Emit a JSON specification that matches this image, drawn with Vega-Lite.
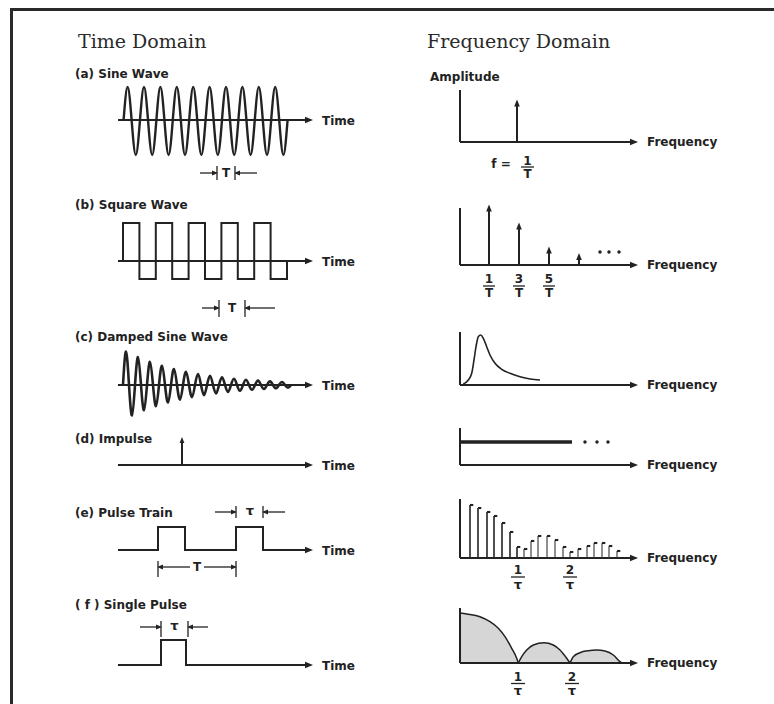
{
  "$schema": "https://vega.github.io/schema/vega-lite/v6.json",
  "width": 774,
  "height": 704,
  "autosize": {"type": "none"},
  "padding": 0,
  "background": "white",
  "config": {"view": {"stroke": null}},
  "datasets": {
    "seg": [
      {"k": "frame", "x": 12, "y": 9.5, "x2": 774, "y2": 9.5},
      {"k": "frame", "x": 11.5, "y": 8, "x2": 11.5, "y2": 704},
      {"k": "axis", "x": 118, "y": 120, "x2": 306, "y2": 120},
      {"k": "axis", "x": 118, "y": 261, "x2": 306, "y2": 261},
      {"k": "axis", "x": 118, "y": 385, "x2": 306, "y2": 385},
      {"k": "axis", "x": 118, "y": 465, "x2": 306, "y2": 465},
      {"k": "axis", "x": 460, "y": 90, "x2": 460, "y2": 142},
      {"k": "axis", "x": 460, "y": 142, "x2": 631, "y2": 142},
      {"k": "axis", "x": 460, "y": 208, "x2": 460, "y2": 265},
      {"k": "axis", "x": 460, "y": 265, "x2": 631, "y2": 265},
      {"k": "axis", "x": 460, "y": 332, "x2": 460, "y2": 385},
      {"k": "axis", "x": 460, "y": 385, "x2": 631, "y2": 385},
      {"k": "axis", "x": 460, "y": 428, "x2": 460, "y2": 465},
      {"k": "axis", "x": 460, "y": 465, "x2": 631, "y2": 465},
      {"k": "axis", "x": 460, "y": 499, "x2": 460, "y2": 558},
      {"k": "axis", "x": 460, "y": 558, "x2": 631, "y2": 558},
      {"k": "axis", "x": 460, "y": 608, "x2": 460, "y2": 663},
      {"k": "axis", "x": 460, "y": 663, "x2": 631, "y2": 663},
      {"k": "axis", "x": 517, "y": 142, "x2": 517, "y2": 103},
      {"k": "axis", "x": 489, "y": 265, "x2": 489, "y2": 208},
      {"k": "axis", "x": 519, "y": 265, "x2": 519, "y2": 226},
      {"k": "axis", "x": 549, "y": 265, "x2": 549, "y2": 250},
      {"k": "axis", "x": 579, "y": 265, "x2": 579, "y2": 257},
      {"k": "axis", "x": 182, "y": 465, "x2": 182, "y2": 440},
      {"k": "heavy", "x": 460, "y": 442, "x2": 572, "y2": 442},
      {"k": "fine", "x": 200, "y": 173, "x2": 214, "y2": 173},
      {"k": "fine", "x": 217, "y": 166, "x2": 217, "y2": 180},
      {"k": "fine", "x": 235, "y": 166, "x2": 235, "y2": 180},
      {"k": "fine", "x": 238, "y": 173, "x2": 257, "y2": 173},
      {"k": "fine", "x": 202, "y": 308, "x2": 216, "y2": 308},
      {"k": "fine", "x": 219, "y": 300, "x2": 219, "y2": 317},
      {"k": "fine", "x": 245, "y": 300, "x2": 245, "y2": 317},
      {"k": "fine", "x": 248, "y": 308, "x2": 275, "y2": 308},
      {"k": "fine", "x": 215, "y": 512, "x2": 233, "y2": 512},
      {"k": "fine", "x": 236, "y": 506, "x2": 236, "y2": 518},
      {"k": "fine", "x": 263, "y": 506, "x2": 263, "y2": 518},
      {"k": "fine", "x": 266, "y": 512, "x2": 285, "y2": 512},
      {"k": "fine", "x": 158, "y": 561, "x2": 158, "y2": 577},
      {"k": "fine", "x": 236, "y": 561, "x2": 236, "y2": 577},
      {"k": "fine", "x": 161, "y": 567, "x2": 190, "y2": 567},
      {"k": "fine", "x": 204, "y": 567, "x2": 233, "y2": 567},
      {"k": "fine", "x": 140, "y": 627, "x2": 158, "y2": 627},
      {"k": "fine", "x": 161, "y": 621, "x2": 161, "y2": 637},
      {"k": "fine", "x": 188, "y": 621, "x2": 188, "y2": 637},
      {"k": "fine", "x": 191, "y": 627, "x2": 208, "y2": 627},
      {"k": "fine", "x": 521, "y": 167, "x2": 534, "y2": 167},
      {"k": "fine", "x": 483, "y": 286, "x2": 495, "y2": 286},
      {"k": "fine", "x": 513, "y": 286, "x2": 525, "y2": 286},
      {"k": "fine", "x": 543, "y": 286, "x2": 555, "y2": 286},
      {"k": "fine", "x": 511, "y": 577, "x2": 525, "y2": 577},
      {"k": "fine", "x": 563, "y": 577, "x2": 577, "y2": 577},
      {"k": "fine", "x": 511, "y": 683.5, "x2": 525, "y2": 683.5},
      {"k": "fine", "x": 565, "y": 683.5, "x2": 579, "y2": 683.5}
    ],
    "spec": [
      {"lobe": 1, "x": 470, "y": 505},
      {"lobe": 1, "x": 478, "y": 508},
      {"lobe": 1, "x": 487, "y": 512},
      {"lobe": 1, "x": 494, "y": 516},
      {"lobe": 1, "x": 502, "y": 523},
      {"lobe": 1, "x": 510, "y": 532},
      {"lobe": 1, "x": 517, "y": 547},
      {"lobe": 2, "x": 524, "y": 549},
      {"lobe": 2, "x": 531, "y": 541},
      {"lobe": 2, "x": 538, "y": 536},
      {"lobe": 2, "x": 547, "y": 536},
      {"lobe": 2, "x": 555, "y": 540},
      {"lobe": 2, "x": 563, "y": 547},
      {"lobe": 2, "x": 570, "y": 552},
      {"lobe": 3, "x": 578, "y": 549},
      {"lobe": 3, "x": 587, "y": 546},
      {"lobe": 3, "x": 594, "y": 543},
      {"lobe": 3, "x": 602, "y": 543},
      {"lobe": 3, "x": 609, "y": 546},
      {"lobe": 3, "x": 617, "y": 551}
    ],
    "arrows": [
      {"d": "R", "s": "big", "x": 309, "y": 120},
      {"d": "R", "s": "big", "x": 309, "y": 261},
      {"d": "R", "s": "big", "x": 309, "y": 385},
      {"d": "R", "s": "big", "x": 309, "y": 465},
      {"d": "R", "s": "big", "x": 309, "y": 550},
      {"d": "R", "s": "big", "x": 309, "y": 665},
      {"d": "R", "s": "big", "x": 634, "y": 142},
      {"d": "R", "s": "big", "x": 634, "y": 265},
      {"d": "R", "s": "big", "x": 634, "y": 385},
      {"d": "R", "s": "big", "x": 634, "y": 465},
      {"d": "R", "s": "big", "x": 634, "y": 558},
      {"d": "R", "s": "big", "x": 634, "y": 663},
      {"d": "U", "s": "mid", "x": 517, "y": 103},
      {"d": "U", "s": "mid", "x": 489, "y": 208},
      {"d": "U", "s": "mid", "x": 519, "y": 226},
      {"d": "U", "s": "mid", "x": 549, "y": 250},
      {"d": "U", "s": "mid", "x": 579, "y": 256.5},
      {"d": "U", "s": "small", "x": 182, "y": 440},
      {"d": "R", "s": "small", "x": 215, "y": 173},
      {"d": "L", "s": "small", "x": 237, "y": 173},
      {"d": "R", "s": "small", "x": 217, "y": 308},
      {"d": "L", "s": "small", "x": 247, "y": 308},
      {"d": "R", "s": "small", "x": 234, "y": 512},
      {"d": "L", "s": "small", "x": 265, "y": 512},
      {"d": "L", "s": "small", "x": 160, "y": 567},
      {"d": "R", "s": "small", "x": 234, "y": 567},
      {"d": "R", "s": "small", "x": 159, "y": 627},
      {"d": "L", "s": "small", "x": 190, "y": 627}
    ],
    "dots": [
      {"x": 600, "y": 252}, {"x": 609, "y": 252}, {"x": 619, "y": 252},
      {"x": 585, "y": 442}, {"x": 597, "y": 442}, {"x": 608, "y": 442}
    ],
    "sine": [
      {"i": 0, "x": 123.5, "y": 121}, {"i": 1, "x": 127.6, "y": 87}, {"i": 2, "x": 131.7, "y": 121}, {"i": 3, "x": 135.8, "y": 155},
      {"i": 4, "x": 139.9, "y": 121}, {"i": 5, "x": 144.0, "y": 87}, {"i": 6, "x": 148.1, "y": 121}, {"i": 7, "x": 152.2, "y": 155},
      {"i": 8, "x": 156.3, "y": 121}, {"i": 9, "x": 160.4, "y": 87}, {"i": 10, "x": 164.5, "y": 121}, {"i": 11, "x": 168.6, "y": 155},
      {"i": 12, "x": 172.7, "y": 121}, {"i": 13, "x": 176.8, "y": 87}, {"i": 14, "x": 180.9, "y": 121}, {"i": 15, "x": 185.0, "y": 155},
      {"i": 16, "x": 189.1, "y": 121}, {"i": 17, "x": 193.2, "y": 87}, {"i": 18, "x": 197.3, "y": 121}, {"i": 19, "x": 201.4, "y": 155},
      {"i": 20, "x": 205.5, "y": 121}, {"i": 21, "x": 209.6, "y": 87}, {"i": 22, "x": 213.7, "y": 121}, {"i": 23, "x": 217.8, "y": 155},
      {"i": 24, "x": 221.9, "y": 121}, {"i": 25, "x": 226.0, "y": 87}, {"i": 26, "x": 230.1, "y": 121}, {"i": 27, "x": 234.2, "y": 155},
      {"i": 28, "x": 238.3, "y": 121}, {"i": 29, "x": 242.4, "y": 87}, {"i": 30, "x": 246.5, "y": 121}, {"i": 31, "x": 250.6, "y": 155},
      {"i": 32, "x": 254.7, "y": 121}, {"i": 33, "x": 258.8, "y": 87}, {"i": 34, "x": 262.9, "y": 121}, {"i": 35, "x": 267.0, "y": 155},
      {"i": 36, "x": 271.1, "y": 121}, {"i": 37, "x": 275.2, "y": 87}, {"i": 38, "x": 279.3, "y": 121}, {"i": 39, "x": 283.4, "y": 155},
      {"i": 40, "x": 287.5, "y": 121}
    ],
    "damped": [
      {"i": 0, "x": 123, "y": 385}, {"i": 1, "x": 126, "y": 351.6}, {"i": 2, "x": 129, "y": 385}, {"i": 3, "x": 132, "y": 415.5},
      {"i": 4, "x": 135, "y": 385}, {"i": 5, "x": 138, "y": 357.2}, {"i": 6, "x": 141, "y": 385}, {"i": 7, "x": 144, "y": 410.3},
      {"i": 8, "x": 147, "y": 385}, {"i": 9, "x": 150, "y": 361.9}, {"i": 10, "x": 153, "y": 385}, {"i": 11, "x": 156, "y": 406.1},
      {"i": 12, "x": 159, "y": 385}, {"i": 13, "x": 162, "y": 365.8}, {"i": 14, "x": 165, "y": 385}, {"i": 15, "x": 168, "y": 402.5},
      {"i": 16, "x": 171, "y": 385}, {"i": 17, "x": 174, "y": 369.0}, {"i": 18, "x": 177, "y": 385}, {"i": 19, "x": 180, "y": 399.6},
      {"i": 20, "x": 183, "y": 385}, {"i": 21, "x": 186, "y": 371.7}, {"i": 22, "x": 189, "y": 385}, {"i": 23, "x": 192, "y": 397.1},
      {"i": 24, "x": 195, "y": 385}, {"i": 25, "x": 198, "y": 374.0}, {"i": 26, "x": 201, "y": 385}, {"i": 27, "x": 204, "y": 395.1},
      {"i": 28, "x": 207, "y": 385}, {"i": 29, "x": 210, "y": 375.8}, {"i": 30, "x": 213, "y": 385}, {"i": 31, "x": 216, "y": 393.4},
      {"i": 32, "x": 219, "y": 385}, {"i": 33, "x": 222, "y": 377.4}, {"i": 34, "x": 225, "y": 385}, {"i": 35, "x": 228, "y": 392.0},
      {"i": 36, "x": 231, "y": 385}, {"i": 37, "x": 234, "y": 378.7}, {"i": 38, "x": 237, "y": 385}, {"i": 39, "x": 240, "y": 390.8},
      {"i": 40, "x": 243, "y": 385}, {"i": 41, "x": 246, "y": 379.7}, {"i": 42, "x": 249, "y": 385}, {"i": 43, "x": 252, "y": 389.8},
      {"i": 44, "x": 255, "y": 385}, {"i": 45, "x": 258, "y": 380.6}, {"i": 46, "x": 261, "y": 385}, {"i": 47, "x": 264, "y": 389.0},
      {"i": 48, "x": 267, "y": 385}, {"i": 49, "x": 270, "y": 381.4}, {"i": 50, "x": 273, "y": 385}, {"i": 51, "x": 276, "y": 388.3},
      {"i": 52, "x": 279, "y": 385}, {"i": 53, "x": 282, "y": 382.0}, {"i": 54, "x": 285, "y": 385}, {"i": 55, "x": 288, "y": 387.8},
      {"i": 56, "x": 291, "y": 385}
    ],
    "poly": [
      {"id": "square", "i": 0, "x": 123, "y": 261}, {"id": "square", "i": 1, "x": 123, "y": 223},
      {"id": "square", "i": 2, "x": 139.4, "y": 223}, {"id": "square", "i": 3, "x": 139.4, "y": 279},
      {"id": "square", "i": 4, "x": 155.8, "y": 279}, {"id": "square", "i": 5, "x": 155.8, "y": 223},
      {"id": "square", "i": 6, "x": 172.2, "y": 223}, {"id": "square", "i": 7, "x": 172.2, "y": 279},
      {"id": "square", "i": 8, "x": 188.6, "y": 279}, {"id": "square", "i": 9, "x": 188.6, "y": 223},
      {"id": "square", "i": 10, "x": 205, "y": 223}, {"id": "square", "i": 11, "x": 205, "y": 279},
      {"id": "square", "i": 12, "x": 221.4, "y": 279}, {"id": "square", "i": 13, "x": 221.4, "y": 223},
      {"id": "square", "i": 14, "x": 237.8, "y": 223}, {"id": "square", "i": 15, "x": 237.8, "y": 279},
      {"id": "square", "i": 16, "x": 254.2, "y": 279}, {"id": "square", "i": 17, "x": 254.2, "y": 223},
      {"id": "square", "i": 18, "x": 270.6, "y": 223}, {"id": "square", "i": 19, "x": 270.6, "y": 279},
      {"id": "square", "i": 20, "x": 287, "y": 279}, {"id": "square", "i": 21, "x": 287, "y": 261},
      {"id": "pulse", "i": 0, "x": 118, "y": 550}, {"id": "pulse", "i": 1, "x": 158, "y": 550},
      {"id": "pulse", "i": 2, "x": 158, "y": 527}, {"id": "pulse", "i": 3, "x": 185, "y": 527},
      {"id": "pulse", "i": 4, "x": 185, "y": 550}, {"id": "pulse", "i": 5, "x": 236, "y": 550},
      {"id": "pulse", "i": 6, "x": 236, "y": 527}, {"id": "pulse", "i": 7, "x": 263, "y": 527},
      {"id": "pulse", "i": 8, "x": 263, "y": 550}, {"id": "pulse", "i": 9, "x": 306, "y": 550},
      {"id": "single", "i": 0, "x": 118, "y": 665}, {"id": "single", "i": 1, "x": 161, "y": 665},
      {"id": "single", "i": 2, "x": 161, "y": 640}, {"id": "single", "i": 3, "x": 186, "y": 640},
      {"id": "single", "i": 4, "x": 186, "y": 665}, {"id": "single", "i": 5, "x": 306, "y": 665}
    ],
    "lor": [
      {"i": 0, "x": 463.3, "y": 384}, {"i": 1, "x": 468.3, "y": 380}, {"i": 2, "x": 471.7, "y": 373.3},
      {"i": 3, "x": 474, "y": 360}, {"i": 4, "x": 476, "y": 346.7}, {"i": 5, "x": 478.3, "y": 336.7},
      {"i": 6, "x": 480.7, "y": 335}, {"i": 7, "x": 483.3, "y": 338.3}, {"i": 8, "x": 486.7, "y": 346.7},
      {"i": 9, "x": 490, "y": 355}, {"i": 10, "x": 495, "y": 363.3}, {"i": 11, "x": 501.7, "y": 369.3},
      {"i": 12, "x": 510, "y": 373.3}, {"i": 13, "x": 520, "y": 376.7}, {"i": 14, "x": 530, "y": 379},
      {"i": 15, "x": 540, "y": 380}
    ],
    "sinc": [
      {"lobe": 1, "i": 0, "x": 460, "y": 613, "b": 663}, {"lobe": 1, "i": 1, "x": 466.7, "y": 614, "b": 663},
      {"lobe": 1, "i": 2, "x": 480, "y": 616.7, "b": 663}, {"lobe": 1, "i": 3, "x": 490, "y": 621.7, "b": 663},
      {"lobe": 1, "i": 4, "x": 498.3, "y": 628.3, "b": 663}, {"lobe": 1, "i": 5, "x": 505, "y": 636.7, "b": 663},
      {"lobe": 1, "i": 6, "x": 511.7, "y": 648.3, "b": 663}, {"lobe": 1, "i": 7, "x": 516.7, "y": 658.3, "b": 663},
      {"lobe": 1, "i": 8, "x": 518.3, "y": 663, "b": 663},
      {"lobe": 2, "i": 0, "x": 518.3, "y": 663, "b": 663}, {"lobe": 2, "i": 1, "x": 521.7, "y": 656.7, "b": 663},
      {"lobe": 2, "i": 2, "x": 526.7, "y": 650, "b": 663}, {"lobe": 2, "i": 3, "x": 533.3, "y": 645, "b": 663},
      {"lobe": 2, "i": 4, "x": 544, "y": 642.7, "b": 663}, {"lobe": 2, "i": 5, "x": 553.3, "y": 645, "b": 663},
      {"lobe": 2, "i": 6, "x": 560, "y": 650, "b": 663}, {"lobe": 2, "i": 7, "x": 566.7, "y": 658.3, "b": 663},
      {"lobe": 2, "i": 8, "x": 570, "y": 663, "b": 663},
      {"lobe": 3, "i": 0, "x": 570, "y": 663, "b": 663}, {"lobe": 3, "i": 1, "x": 573.3, "y": 656.7, "b": 663},
      {"lobe": 3, "i": 2, "x": 580, "y": 652.7, "b": 663}, {"lobe": 3, "i": 3, "x": 588.3, "y": 650.7, "b": 663},
      {"lobe": 3, "i": 4, "x": 596.7, "y": 650, "b": 663}, {"lobe": 3, "i": 5, "x": 605, "y": 651, "b": 663},
      {"lobe": 3, "i": 6, "x": 613.3, "y": 655, "b": 663}, {"lobe": 3, "i": 7, "x": 620, "y": 661.7, "b": 663},
      {"lobe": 3, "i": 8, "x": 621.7, "y": 663, "b": 663}
    ],
    "texts": [
      {"r": "title", "t": "Time Domain", "x": 78, "y": 48},
      {"r": "title", "t": "Frequency Domain", "x": 427, "y": 48},
      {"r": "label", "t": "(a) Sine Wave", "x": 75, "y": 77.5},
      {"r": "label", "t": "Amplitude", "x": 430, "y": 81},
      {"r": "label", "t": "Time", "x": 322, "y": 124.5},
      {"r": "label", "t": "Frequency", "x": 647, "y": 146},
      {"r": "label", "t": "(b) Square Wave", "x": 75, "y": 209},
      {"r": "label", "t": "Time", "x": 322, "y": 265.5},
      {"r": "label", "t": "Frequency", "x": 647, "y": 269},
      {"r": "label", "t": "(c) Damped Sine Wave", "x": 75, "y": 341},
      {"r": "label", "t": "Time", "x": 322, "y": 389.5},
      {"r": "label", "t": "Frequency", "x": 647, "y": 389},
      {"r": "label", "t": "(d) Impulse", "x": 75, "y": 443},
      {"r": "label", "t": "Time", "x": 322, "y": 469.5},
      {"r": "label", "t": "Frequency", "x": 647, "y": 469},
      {"r": "label", "t": "(e) Pulse Train", "x": 75, "y": 516.5},
      {"r": "label", "t": "Time", "x": 322, "y": 554.5},
      {"r": "label", "t": "Frequency", "x": 647, "y": 562},
      {"r": "label", "t": "( f ) Single Pulse", "x": 75, "y": 609},
      {"r": "label", "t": "Time", "x": 322, "y": 669.5},
      {"r": "label", "t": "Frequency", "x": 647, "y": 667},
      {"r": "math", "t": "T", "x": 226, "y": 173},
      {"r": "math", "t": "T", "x": 232, "y": 308},
      {"r": "tau", "t": "τ", "x": 250, "y": 511},
      {"r": "math", "t": "T", "x": 197, "y": 567},
      {"r": "tau", "t": "τ", "x": 174.5, "y": 626},
      {"r": "math", "t": "f =", "x": 501, "y": 164},
      {"r": "math", "t": "1", "x": 527.5, "y": 160.5},
      {"r": "math", "t": "T", "x": 527.5, "y": 173.5},
      {"r": "math", "t": "1", "x": 489, "y": 279},
      {"r": "math", "t": "3", "x": 519, "y": 279},
      {"r": "math", "t": "5", "x": 549, "y": 279},
      {"r": "math", "t": "T", "x": 489, "y": 292.5},
      {"r": "math", "t": "T", "x": 519, "y": 292.5},
      {"r": "math", "t": "T", "x": 549, "y": 292.5},
      {"r": "math", "t": "1", "x": 518, "y": 570},
      {"r": "tau", "t": "τ", "x": 518, "y": 584.5},
      {"r": "math", "t": "2", "x": 570, "y": 570},
      {"r": "tau", "t": "τ", "x": 570, "y": 584.5},
      {"r": "math", "t": "1", "x": 518, "y": 676.5},
      {"r": "tau", "t": "τ", "x": 518, "y": 690.5},
      {"r": "math", "t": "2", "x": 572, "y": 676.5},
      {"r": "tau", "t": "τ", "x": 572, "y": 690.5}
    ]
  },
  "encoding": {
    "x": {"field": "x", "type": "quantitative", "scale": {"domain": [0, 774], "nice": false, "zero": false}, "axis": null},
    "y": {"field": "y", "type": "quantitative", "scale": {"domain": [0, 704], "nice": false, "zero": false, "reverse": true}, "axis": null}
  },
  "layer": [
    {
      "data": {"name": "sinc"},
      "mark": {"type": "area", "interpolate": "monotone", "fill": "#d6d6d6", "opacity": 1, "orient": "vertical"},
      "encoding": {
        "y2": {"field": "b"},
        "detail": {"field": "lobe", "type": "nominal"}
      }
    },
    {
      "data": {"name": "seg"},
      "transform": [{"filter": "datum.k === 'frame'"}],
      "mark": {"type": "rule", "strokeWidth": 3, "color": "#2a2a2a"},
      "encoding": {"x2": {"field": "x2"}, "y2": {"field": "y2"}}
    },
    {
      "data": {"name": "seg"},
      "transform": [{"filter": "datum.k === 'axis'"}],
      "mark": {"type": "rule", "strokeWidth": 2, "color": "#222"},
      "encoding": {"x2": {"field": "x2"}, "y2": {"field": "y2"}}
    },
    {
      "data": {"name": "seg"},
      "transform": [{"filter": "datum.k === 'heavy'"}],
      "mark": {"type": "rule", "strokeWidth": 3.5, "color": "#222"},
      "encoding": {"x2": {"field": "x2"}, "y2": {"field": "y2"}}
    },
    {
      "data": {"name": "seg"},
      "transform": [{"filter": "datum.k === 'fine'"}],
      "mark": {"type": "rule", "strokeWidth": 1.3, "color": "#222"},
      "encoding": {"x2": {"field": "x2"}, "y2": {"field": "y2"}}
    },
    {
      "data": {"name": "spec"},
      "transform": [{"filter": "datum.lobe === 1"}],
      "mark": {"type": "rule", "strokeWidth": 1.6, "color": "#222"},
      "encoding": {"y2": {"datum": 558}}
    },
    {
      "data": {"name": "spec"},
      "transform": [{"filter": "datum.lobe !== 1"}],
      "mark": {"type": "rule", "strokeWidth": 1.1, "color": "#333"},
      "encoding": {"y2": {"datum": 558}}
    },
    {
      "data": {"name": "spec"},
      "mark": {"type": "point", "filled": true, "color": "#222", "opacity": 1, "shape": "M0,-0.7H2.2V0.7H0Z", "size": 9, "strokeWidth": 0}
    },
    {
      "data": {"name": "sine"},
      "mark": {"type": "line", "interpolate": "natural", "strokeWidth": 2.4, "color": "#222"},
      "encoding": {"order": {"field": "i", "type": "quantitative"}}
    },
    {
      "data": {"name": "damped"},
      "mark": {"type": "line", "interpolate": "natural", "strokeWidth": 2.6, "color": "#222"},
      "encoding": {"order": {"field": "i", "type": "quantitative"}}
    },
    {
      "data": {"name": "poly"},
      "mark": {"type": "line", "strokeWidth": 2, "color": "#222", "strokeJoin": "miter"},
      "encoding": {"detail": {"field": "id", "type": "nominal"}, "order": {"field": "i", "type": "quantitative"}}
    },
    {
      "data": {"name": "lor"},
      "mark": {"type": "line", "interpolate": "monotone", "strokeWidth": 1.6, "color": "#222"},
      "encoding": {"order": {"field": "i", "type": "quantitative"}}
    },
    {
      "data": {"name": "sinc"},
      "mark": {"type": "line", "interpolate": "monotone", "strokeWidth": 1.5, "color": "#222"},
      "encoding": {"detail": {"field": "lobe", "type": "nominal"}, "order": {"field": "i", "type": "quantitative"}}
    },
    {
      "data": {"name": "arrows"},
      "mark": {"type": "point", "filled": true, "color": "#222", "opacity": 1, "strokeWidth": 0},
      "encoding": {
        "shape": {"field": "d", "type": "nominal", "scale": {"domain": ["R", "L", "U"], "range": ["M-1,-0.8L1,0L-1,0.8Z", "M1,-0.8L-1,0L1,0.8Z", "M-0.8,1L0,-1L0.8,1Z"]}, "legend": null},
        "size": {"field": "s", "type": "ordinal", "scale": {"domain": ["big", "mid", "small"], "range": [64, 36, 16]}, "legend": null}
      }
    },
    {
      "data": {"name": "dots"},
      "mark": {"type": "point", "filled": true, "shape": "circle", "size": 12, "color": "#222", "opacity": 1, "strokeWidth": 0}
    },
    {
      "data": {"name": "texts"},
      "transform": [{"filter": "datum.r === 'title'"}],
      "mark": {"type": "text", "font": "DejaVu Serif", "fontSize": 19, "align": "left", "baseline": "alphabetic", "color": "#2a2a2a"},
      "encoding": {"text": {"field": "t"}}
    },
    {
      "data": {"name": "texts"},
      "transform": [{"filter": "datum.r === 'label'"}],
      "mark": {"type": "text", "font": "DejaVu Sans", "fontWeight": "bold", "fontSize": 12, "align": "left", "baseline": "alphabetic", "color": "#222"},
      "encoding": {"text": {"field": "t"}}
    },
    {
      "data": {"name": "texts"},
      "transform": [{"filter": "datum.r === 'math'"}],
      "mark": {"type": "text", "font": "DejaVu Sans", "fontWeight": "bold", "fontSize": 12, "align": "center", "baseline": "middle", "color": "#222"},
      "encoding": {"text": {"field": "t"}}
    },
    {
      "data": {"name": "texts"},
      "transform": [{"filter": "datum.r === 'tau'"}],
      "mark": {"type": "text", "font": "DejaVu Sans", "fontWeight": "bold", "fontSize": 13, "align": "center", "baseline": "middle", "color": "#222"},
      "encoding": {"text": {"field": "t"}}
    }
  ]
}
